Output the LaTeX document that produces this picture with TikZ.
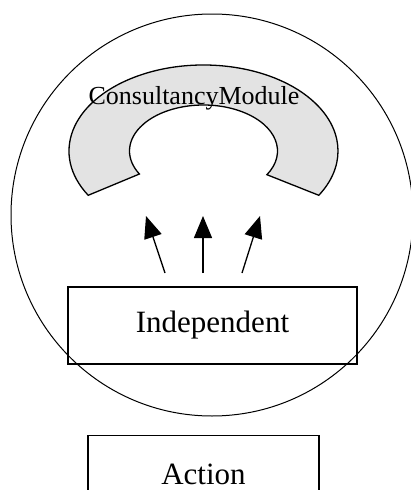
\documentclass[tikz,border=0pt]{standalone}
\usepackage{fontspec}
\setmainfont{Liberation Serif}
\usetikzlibrary{arrows.meta}
\tikzset{
    box/.style={rectangle, draw=black, line width=1.3pt, minimum width=289pt, minimum height=77pt, inner sep=0pt, font=\fontsize{31}{36}\selectfont},
    band/.style={draw=black, fill=black!11, line width=1.3pt},
    push/.style={line width=1.3pt, -{Triangle[length=22pt, width=18pt]}}
}
\begin{document}
\begin{tikzpicture}[x=1pt, y=-1pt]
        \useasboundingbox (0,0) rectangle (411,490);
        \node[circle, draw=black, line width=1pt, minimum size=402pt, inner sep=0pt] (env) at (212,215) {};
        \coordinate (mid) at (203.5,151);
        \filldraw[band] ([shift={(mid)}]149:134.5 and 86) arc[start angle=149, end angle=391, x radius=134.5, y radius=86]
            -- ([shift={(mid)}]31:74 and 46) arc[start angle=391, end angle=150, x radius=74, y radius=46] -- cycle;
        \node[font=\fontsize{26}{30}\selectfont] (module) at (194,98) {ConsultancyModule};
        \node[box] (indep) at (212.5,325.5) {Independent};
        \node[box, minimum width=231pt] (action) at (203.5,474) {Action};
        \coordinate (t0) at (165,273);
        \coordinate (t1) at (203,273);
        \coordinate (t2) at (242,273);
        \coordinate (h0) at (146,216);
        \coordinate (h1) at (203,216);
        \coordinate (h2) at (260,216);
        \draw[push] (t0) -- (h0);
        \draw[push] (t1) -- (h1);
        \draw[push] (t2) -- (h2);
    \end{tikzpicture}
\end{document}
